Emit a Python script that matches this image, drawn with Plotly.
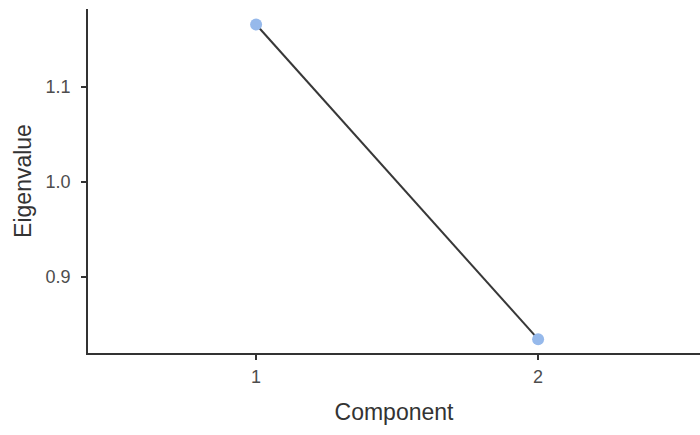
import plotly.graph_objects as go

components = [1, 2]
eigenvalues = [1.166, 0.834]
y_ticks = [0.9, 1.0, 1.1]
y_tick_labels = ["0.9", "1.0", "1.1"]
x_ticks = [1, 2]
x_tick_labels = ["1", "2"]

fig = go.Figure()
fig.add_trace(go.Scatter(x=components, y=eigenvalues, mode="lines",
                         line=dict(color="#383838", width=2), hoverinfo="skip"))
fig.add_trace(go.Scatter(x=components, y=eigenvalues, mode="markers",
                         marker=dict(color="#96b9eb", size=12, line=dict(width=0))))

font = "Liberation Sans"
fig.update_layout(
    width=700, height=435,
    margin=dict(l=88, r=0, t=9, b=82, autoexpand=False),
    plot_bgcolor="white", paper_bgcolor="white",
    showlegend=False,
    font=dict(family=font),
    xaxis=dict(range=[0.404, 2.574], tickvals=x_ticks, ticktext=x_tick_labels,
               showgrid=False, zeroline=False, showline=True, linecolor="#333333", linewidth=1.5,
               ticks="outside", ticklen=5, tickwidth=1.5, tickcolor="#333333",
               ticklabelstandoff=2,
               tickfont=dict(family=font, size=18, color="#4d4d4d"),
               title=dict(text="Component", font=dict(family=font, size=23, color="#333333"), standoff=18)),
    yaxis=dict(range=[0.8194, 1.1824], tickvals=y_ticks, ticktext=y_tick_labels,
               showgrid=False, zeroline=False, showline=True, linecolor="#333333", linewidth=1.5,
               ticks="outside", ticklen=5, tickwidth=1.5, tickcolor="#333333",
               ticklabelstandoff=7,
               tickfont=dict(family=font, size=18, color="#4d4d4d"),
               title=dict(text="Eigenvalue", font=dict(family=font, size=23, color="#333333"), standoff=8)),
)
fig.write_html("out.html", config={"displayModeBar": False},
               post_script="document.body.style.margin='0';document.body.style.overflow='hidden';")
